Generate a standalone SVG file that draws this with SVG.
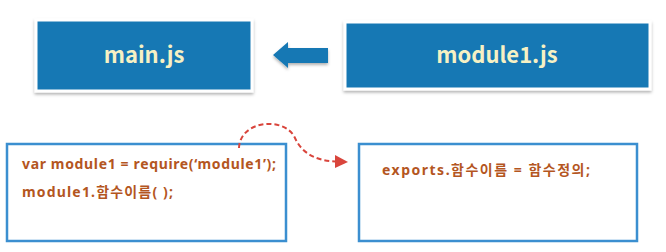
<svg xmlns="http://www.w3.org/2000/svg" width="666" height="252" viewBox="0 0 666 252">
<defs>
<style>
.top{fill:#1778b4;stroke:#ffffff;stroke-width:3;filter:url(#sh)}
.tt{font-family:"Noto Sans CJK KR","Noto Sans",sans-serif;font-weight:bold;font-size:22px;fill:#f6f1c4;text-anchor:middle}
.box{fill:#ffffff;stroke:#3b8fd0;stroke-width:2.5}
.code{font-family:"Noto Sans","Noto Sans CJK KR",sans-serif;font-weight:bold;font-size:14px;fill:#b4561f}
.dash{fill:none;stroke:#d9453c;stroke-width:2;stroke-dasharray:5 3}
</style>
<filter id="sh" x="-10%" y="-20%" width="120%" height="150%">
<feDropShadow dx="0" dy="2" stdDeviation="1.5" flood-color="#000" flood-opacity="0.3"/>
</filter>
</defs>
<rect width="666" height="252" fill="#ffffff"/>
<g id="main">
<rect class="top" x="36" y="20" width="216" height="71"/>
<text class="tt" x="144" y="63">main.js</text>
</g>
<g id="module1">
<rect class="top" x="345" y="22" width="305" height="67"/>
<text class="tt" x="497" y="63">module1.js</text>
</g>
<g id="main-code">
<rect class="box" x="7" y="144" width="279" height="97"/>
<text class="code" x="22" y="169" textLength="254" lengthAdjust="spacing">var module1 = require(‘module1’);</text>
<text class="code" x="22" y="197" textLength="151" lengthAdjust="spacing">module1.함수이름( );</text>
</g>
<g id="module1-code">
<rect class="box" x="359" y="144" width="278" height="97"/>
<text class="code" x="382" y="175" textLength="208" lengthAdjust="spacing">exports.함수이름 = 함수정의;</text>
</g>
<g id="connectors">
<polygon points="273,55 288,42 288,48 328,48 328,63 288,63 288,68" fill="#1778b4" filter="url(#sh)"/>
<path class="dash" d="M239,148 C240,120 285,116 295,138 C302,154 318,161 335,161.5"/>
<polygon points="335,155 348,162 335,168" fill="#d9453c"/>
</g>
</svg>
